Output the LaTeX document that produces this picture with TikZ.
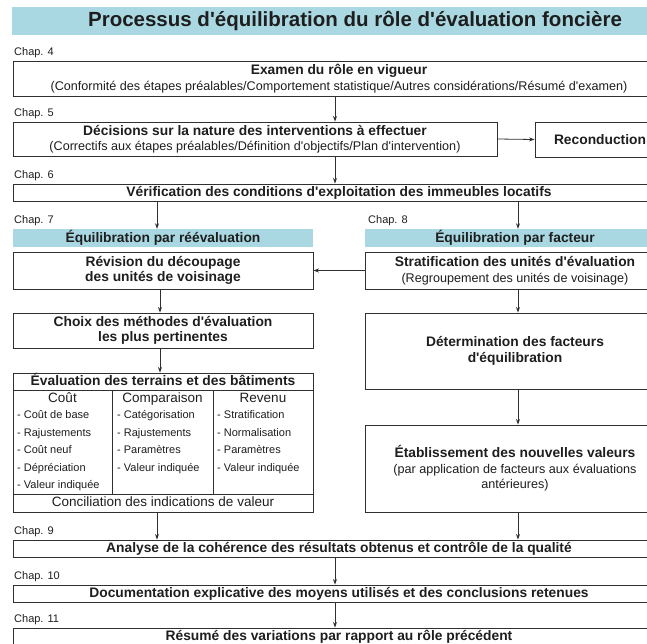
\documentclass[tikz,border=0pt]{standalone}
\usepackage{fontspec}
\setmainfont{Liberation Sans}
\newfontfamily\arialf{Liberation Sans}
\usetikzlibrary{arrows.meta}
\definecolor{barc}{HTML}{A9D8E2}
\definecolor{linec}{HTML}{303030}
\definecolor{txtc}{HTML}{1E1E1E}
\newcommand\fsz[2]{\arialf\fontsize{#1}{#2}\selectfont}
\newcommand\subf{\fsz{12.6}{15}\mdseries}
\begin{document}
\begin{tikzpicture}[x=1pt,y=-1pt,
  box/.style={draw=linec, line width=0.9pt, fill=white, inner sep=0pt, align=center, text=txtc, font=\fsz{13.8}{15.5}\bfseries},
  hbar/.style={fill=barc, inner sep=0pt, text=txtc, font=\fsz{13.8}{16}\bfseries},
  chap/.style={anchor=west, inner sep=0pt, text=txtc, font=\fsz{11}{13}, text height=8pt, text depth=2.5pt},
  arr/.style={draw=linec, line width=0.8pt, -{Stealth[length=5.5pt,width=4pt]}},
  tline/.style={draw=linec, line width=0.9pt},
  item/.style={anchor=west, inner sep=0pt, text=txtc, font=\fsz{11}{13}, text height=8pt, text depth=2.5pt},
  colh/.style={inner sep=0pt, text=txtc, font=\fsz{13.5}{15}, text height=9.7pt, text depth=2.8pt},
  btxt/.style={inner sep=0pt, text=txtc, font=\fsz{13.8}{15.5}\bfseries, text height=10pt, text depth=3pt}
]
\clip (0,0) rectangle (647,643);
\fill[white] (0,0) rectangle (647,643);

% title
\node[hbar, minimum width=687, minimum height=28, anchor=north west] (tb) at (12,7) {};
\node[inner sep=0pt, text=txtc, font=\fsz{20.5}{24}\bfseries] (title) at (355,21) {Processus d'équilibration du rôle d'évaluation foncière};

% chapter labels
\node[chap] (c4) at (14,53) {Chap. 4};
\node[chap] (c5) at (14,114) {Chap. 5};
\node[chap] (c6) at (14,176) {Chap. 6};
\node[chap] (c7) at (14,221) {Chap. 7};
\node[chap] (c8) at (368,221) {Chap. 8};
\node[chap] (c9) at (14,532) {Chap. 9};
\node[chap] (c10) at (14,577) {Chap. 10};
\node[chap] (c11) at (14,620) {Chap. 11};

% boxes
\node[box, minimum width=652, minimum height=35] (b1) at (339,78.5)
  {Examen du rôle en vigueur\\{\subf (Conformité des étapes préalables/Comportement statistique/Autres considérations/Résumé d'examen)}};
\node[box, minimum width=484, minimum height=34] (b2) at (255,139)
  {Décisions sur la nature des interventions à effectuer\\{\subf (Correctifs aux étapes préalables/Définition d'objectifs/Plan d'intervention)}};
\node[box, minimum width=130, minimum height=35] (rec) at (600,139.5) {Reconduction};
\node[box, minimum width=652, minimum height=17] (b3) at (339,192.5)
  {Vérification des conditions d'exploitation des immeubles locatifs};

\node[hbar, minimum width=300, minimum height=18] (hL) at (163,238) {Équilibration par réévaluation};
\node[hbar, minimum width=300, minimum height=18] (hR) at (515,238) {Équilibration par facteur};

\node[box, minimum width=300, minimum height=37] (rev) at (163,270.5)
  {Révision du découpage\\des unités de voisinage};
\node[box, minimum width=300, minimum height=37] (strat) at (515,270.5)
  {Stratification des unités d'évaluation\\{\subf (Regroupement des unités de voisinage)}};
\node[box, minimum width=300, minimum height=35] (choix) at (163,330.5)
  {Choix des méthodes d'évaluation\\les plus pertinentes};
\node[box, minimum width=300, minimum height=76] (determ) at (515,351)
  {Détermination des facteurs\\d'équilibration};
\node[box, minimum width=300, minimum height=87] (etab) at (515,468.5)
  {Établissement des nouvelles valeurs\\{\subf (par application de facteurs aux évaluations}\\{\subf antérieures)}};

% evaluation table
\node[box, minimum width=300, minimum height=139] (ev) at (163,442.5) {};
\draw[tline] (13,390) -- (313,390);
\draw[tline] (13,494) -- (313,494);
\draw[tline] (112,390) -- (112,494);
\draw[tline] (213,390) -- (213,494);
\node[btxt] (evh) at (163,381.5) {Évaluation des terrains et des bâtiments};
\node[colh] (h1) at (62.5,399.5) {Coût};
\node[colh] (h2) at (162.5,399.5) {Comparaison};
\node[colh] (h3) at (263,399.5) {Revenu};
\foreach \t [count=\i] in {- Coût de base,- Rajustements,- Coût neuf,- Dépréciation,- Valeur indiquée}
  \node[item] (ia\i) at (17,{416+17.5*(\i-1)}) {\t};
\foreach \t [count=\i] in {- Catégorisation,- Rajustements,- Paramètres,- Valeur indiquée}
  \node[item] (ib\i) at (117,{416+17.5*(\i-1)}) {\t};
\foreach \t [count=\i] in {- Stratification,- Normalisation,- Paramètres,- Valeur indiquée}
  \node[item] (ic\i) at (217,{416+17.5*(\i-1)}) {\t};
\node[colh] (conc) at (163,503) {Conciliation des indications de valeur};

\node[box, minimum width=652, minimum height=17] (b9) at (339,548.5)
  {Analyse de la cohérence des résultats obtenus et contrôle de la qualité};
\node[box, minimum width=652, minimum height=17] (b10) at (339,593.5)
  {Documentation explicative des moyens utilisés et des conclusions retenues};
\node[box, minimum width=652, minimum height=34] (b11) at (339,645) {};
\node[btxt] (t11) at (339,637) {Résumé des variations par rapport au rôle précédent};

% connectors
\coordinate (mx) at (335,0);
\coordinate (lxa) at (157,0);
\coordinate (lxb) at (160,0);
\coordinate (rx) at (518,0);
\draw[arr] (b1.south -| mx) -- (b2.north -| mx);
\draw[arr] (b2.east) -- (rec.west);
\draw[arr] (b2.south -| mx) -- (b3.north -| mx);
\draw[arr] (b3.south -| lxa) -- (hL.north -| lxa);
\draw[arr] (b3.south -| rx) -- (hR.north -| rx);
\draw[arr] (strat.west) -- (rev.east);
\draw[arr] (rev.south -| lxb) -- (choix.north -| lxb);
\draw[arr] (choix.south -| lxb) -- (ev.north -| lxb);
\draw[arr] (strat.south -| rx) -- (determ.north -| rx);
\draw[arr] (determ.south -| rx) -- (etab.north -| rx);
\draw[arr] (ev.south -| lxa) -- (b9.north -| lxa);
\draw[arr] (etab.south -| rx) -- (b9.north -| rx);
\draw[arr] (b9.south -| mx) -- (b10.north -| mx);
\draw[arr] (b10.south -| mx) -- (b11.north -| mx);
\end{tikzpicture}
\end{document}
